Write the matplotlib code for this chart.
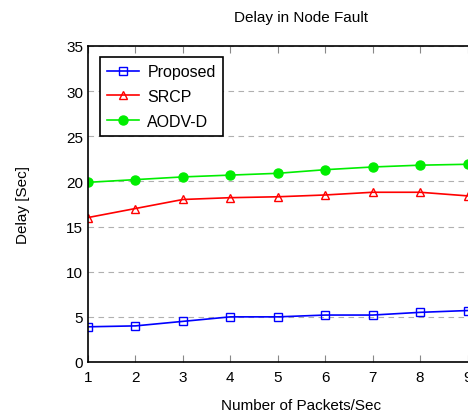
import matplotlib
matplotlib.use("Agg")
import matplotlib.pyplot as plt

plt.rcParams['font.family'] = ['Liberation Sans', 'DejaVu Sans']

packets = [1, 2, 3, 4, 5, 6, 7, 8, 9]
proposed = [3.9, 4.0, 4.5, 5.0, 5.0, 5.2, 5.2, 5.5, 5.7]
srcp = [16.0, 17.0, 18.0, 18.2, 18.3, 18.5, 18.8, 18.8, 18.4]
aodvd = [19.9, 20.2, 20.5, 20.7, 20.9, 21.3, 21.6, 21.8, 21.9]
yticks = [0, 5, 10, 15, 20, 25, 30, 35]

fig = plt.figure(figsize=(4.68, 4.14), dpi=100)
ax = fig.add_axes([88/468, 51/414, (515-88)/468, 316/414])

ax.plot(packets, proposed, color='#0000ff', marker='s', mfc='none', mec='#0000ff',
        ms=6, lw=1.2, label='Proposed')
ax.plot(packets, srcp, color='#ff0000', marker='^', mfc='none', mec='#ff0000',
        ms=6, lw=1.2, label='SRCP')
ax.plot(packets, aodvd, color='#00ee00', marker='o', mfc='#00ee00', mec='#00ee00',
        ms=6.5, lw=1.2, label='AODV-D')

ax.set_xlim(1, 10)
ax.set_ylim(0, 35)
ax.set_yticks(yticks)
ax.set_xticks(range(1, 11))
ax.yaxis.grid(True, linestyle=(0, (5, 4)), color='#b0b0b0', lw=0.8)
ax.set_axisbelow(True)
ax.tick_params(axis='x', direction='in', top=True, length=5, color='#888888', labelsize=11, pad=6)
ax.tick_params(axis='y', direction='in', length=0, labelsize=11)
for s in ax.spines.values():
    s.set_linewidth(1.2)

ax.set_title('Delay in Node Fault', fontsize=11, pad=18)
ax.set_xlabel('Number of Packets/Sec', fontsize=11, labelpad=10)
ax.set_ylabel('Delay [Sec]', fontsize=11, labelpad=26)

leg = ax.legend(loc='upper left', bbox_to_anchor=(0.01, 0.99), fancybox=False,
                edgecolor='black', framealpha=1, fontsize=11.5, handlelength=2.0,
                borderpad=0.45, labelspacing=0.6, handletextpad=0.5)
leg.get_frame().set_linewidth(1.2)

fig.savefig('out.png', dpi=100)
